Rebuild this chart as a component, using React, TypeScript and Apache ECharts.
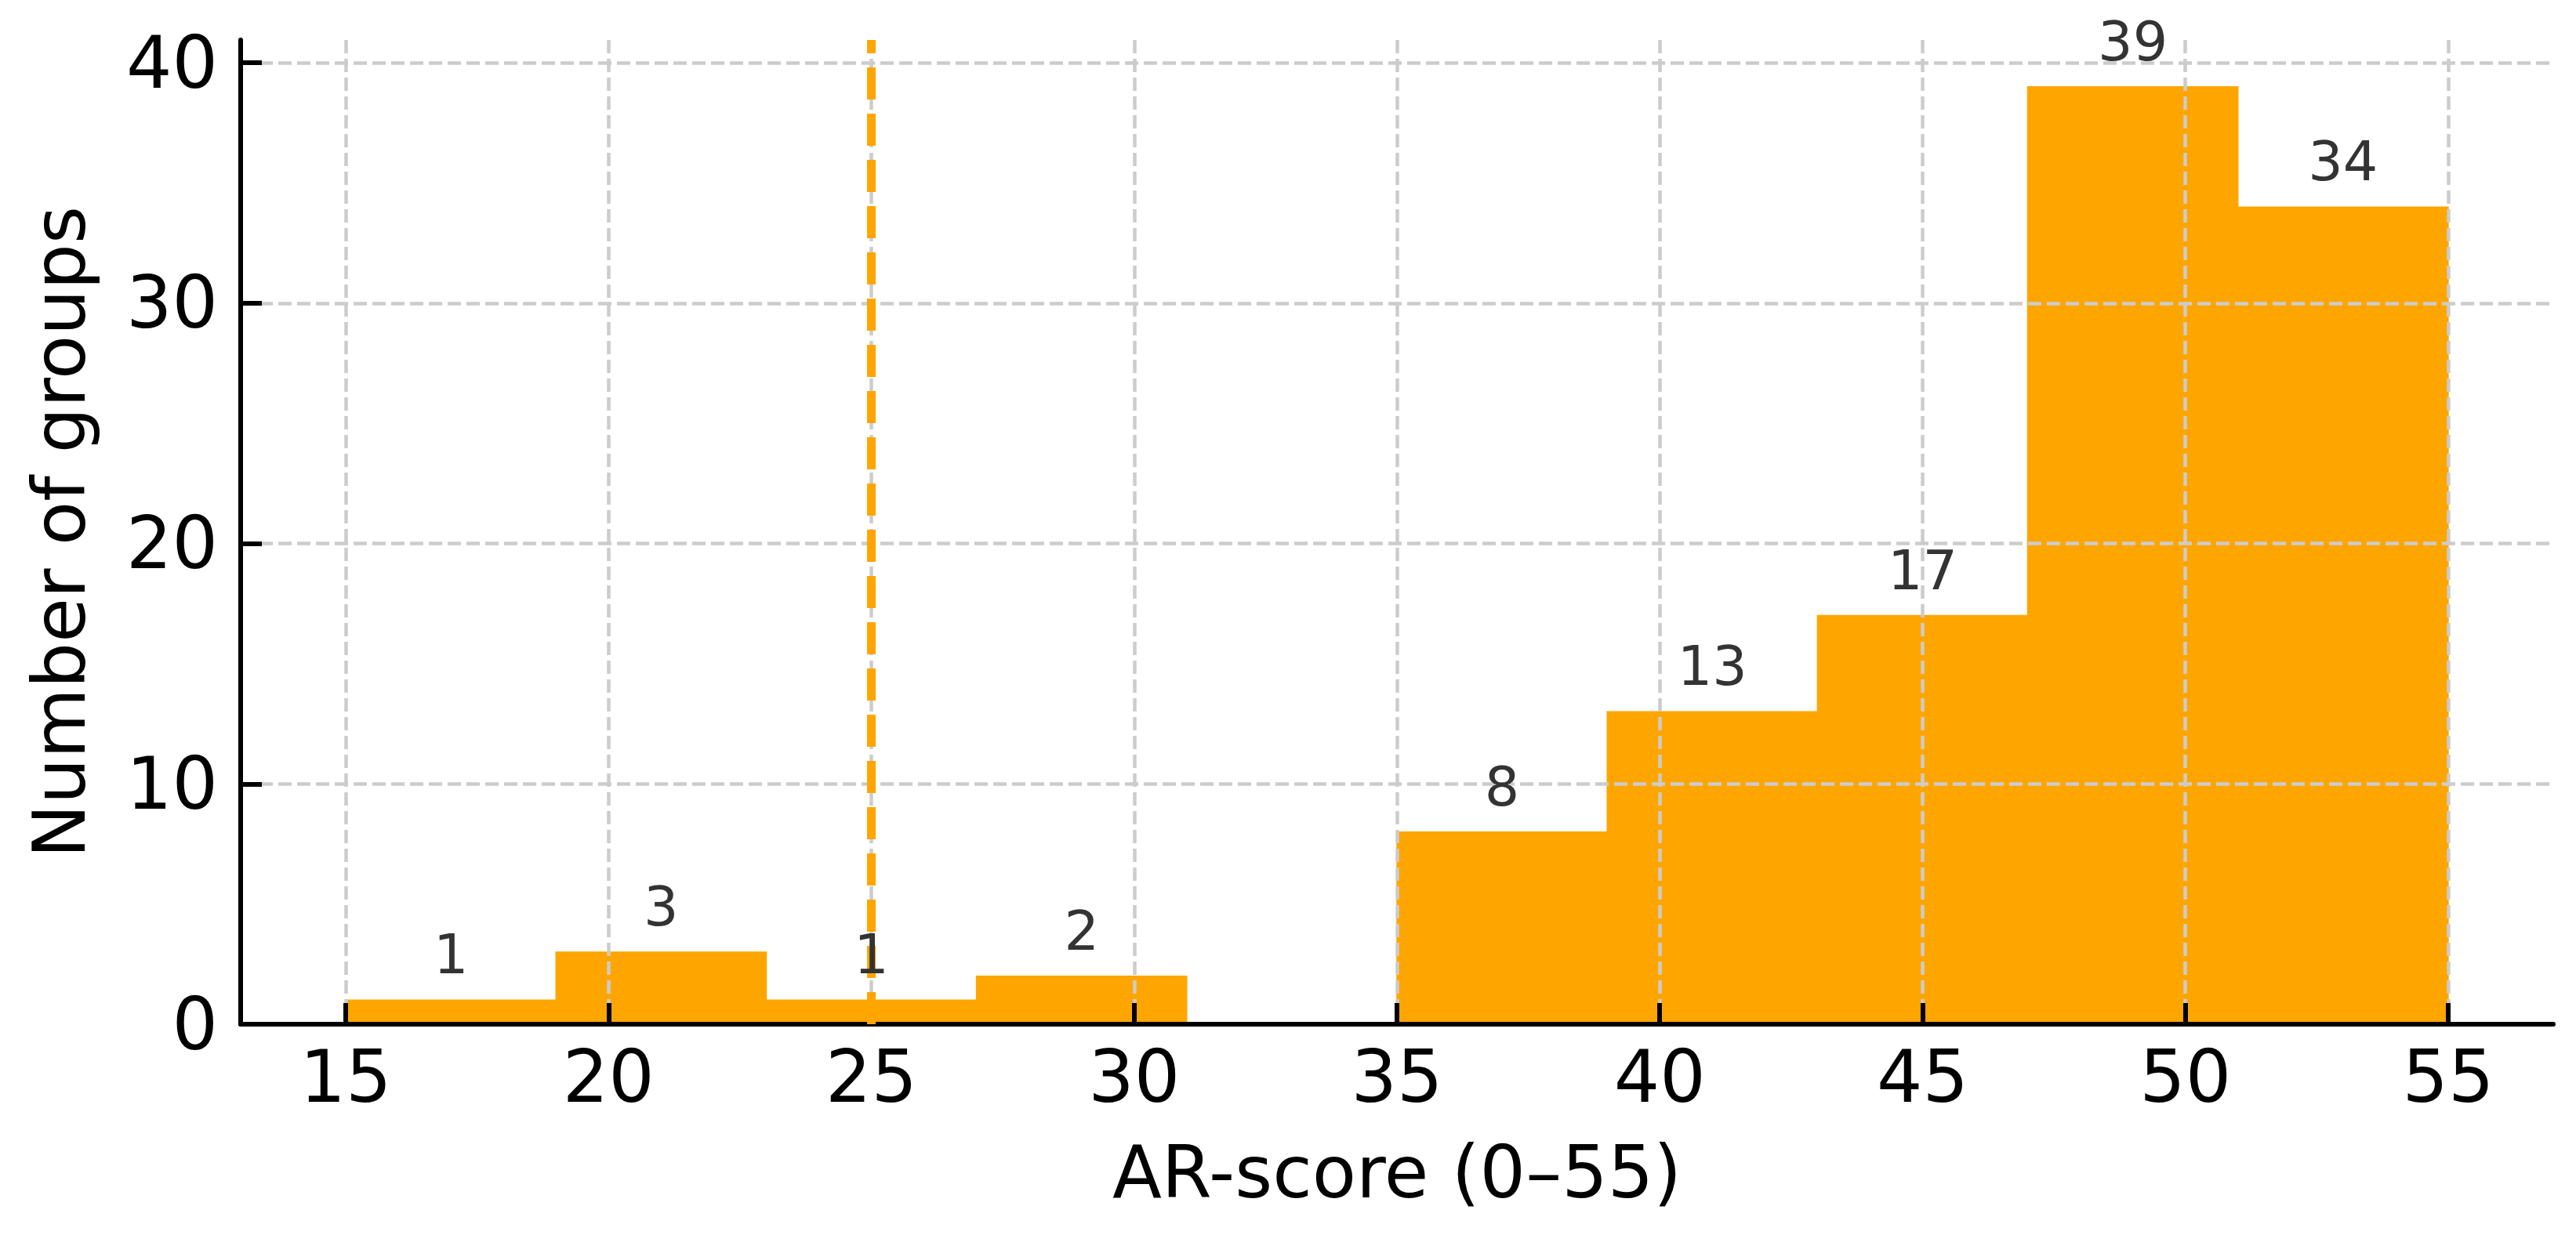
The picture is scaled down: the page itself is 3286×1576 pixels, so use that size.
import React, { useEffect, useRef } from "react";
import * as echarts from "echarts";

// Histogram bins (AR-score) and number of groups per bin
const binStarts = [15, 19, 23, 27, 31, 35, 39, 43, 47, 51];
const binEnds = [19, 23, 27, 31, 35, 39, 43, 47, 51, 55];
const counts = [1, 3, 1, 2, 0, 8, 13, 17, 39, 34];

// Axis ticks
const xTicks = [15, 20, 25, 30, 35, 40, 45, 50, 55];
const yTicks = [0, 10, 20, 30, 40];
const xRange = [13, 57];
const yRange = [0, 40.95];

// Threshold line
const thresholdX = 25;

const FONT = "'DejaVu Sans', 'Liberation Sans', sans-serif";
const ORANGE = "#FFA500";

export default function App() {
  const ref = useRef<HTMLDivElement>(null);

  useEffect(() => {
    if (!ref.current) return;
    const chart = echarts.init(ref.current, undefined, { renderer: "svg" });

    const barData = binStarts.map((s, i) => [s, binEnds[i], counts[i]]);

    const axisCommon = {
      z: 3,
      axisLine: { show: true, onZero: false, lineStyle: { color: "#000", width: 6 } },
      axisTick: { show: true, inside: true, length: 27, lineStyle: { color: "#000", width: 6 } },
      splitLine: { show: true, lineStyle: { color: "#cccccc", width: 4.5, type: [17, 7] } },
      nameTextStyle: { fontSize: 92, color: "#000", fontFamily: FONT },
    };

    chart.setOption({
      animation: false,
      backgroundColor: "#ffffff",
      grid: {
        left: 307,
        right: 29,
        top: 51,
        bottom: 269,
        containLabel: false,
        outerBoundsMode: "none",
      },
      xAxis: {
        ...axisCommon,
        type: "value",
        min: xRange[0],
        max: xRange[1],
        axisTick: { ...axisCommon.axisTick, customValues: xTicks },
        axisLabel: {
          customValues: xTicks,
          fontSize: 92,
          color: "#000",
          fontFamily: FONT,
          margin: 21,
        },
        name: "AR-score (0–55)",
        nameLocation: "middle",
        nameGap: 143,
      },
      yAxis: {
        ...axisCommon,
        type: "value",
        min: yRange[0],
        max: yRange[1],
        axisTick: { ...axisCommon.axisTick, customValues: yTicks },
        axisLabel: {
          customValues: yTicks,
          fontSize: 92,
          color: "#000",
          fontFamily: FONT,
          margin: 29,
        },
        name: "Number of groups",
        nameLocation: "middle",
        nameRotate: 90,
        nameGap: 185,
      },
      series: [
        {
          type: "custom",
          z: 1,
          data: barData,
          encode: { x: [0, 1], y: 2 },
          renderItem: (params: any, api: any) => {
            if (!api.value(2)) return null;
            const p0 = api.coord([api.value(0), 0]);
            const p1 = api.coord([api.value(1), api.value(2)]);
            return {
              type: "rect",
              shape: {
                x: p0[0],
                y: p1[1],
                width: p1[0] - p0[0],
                height: p0[1] - p1[1],
              },
              style: { fill: ORANGE, stroke: ORANGE, lineWidth: 1.5 },
            };
          },
        },
        {
          type: "line",
          z: 4,
          symbol: "none",
          data: [
            [thresholdX, yRange[0]],
            [thresholdX, yRange[1]],
          ],
          lineStyle: { color: ORANGE, width: 11, type: [41, 18], cap: "butt" },
        },
        {
          type: "custom",
          z: 5,
          data: barData,
          encode: { x: [0, 1], y: 2 },
          renderItem: (params: any, api: any) => {
            const v = api.value(2);
            if (!v) return null;
            const c = api.coord([(api.value(0) + api.value(1)) / 2, v]);
            return {
              type: "text",
              x: c[0],
              y: c[1] - 58,
              style: {
                text: String(v),
                fill: "#333333",
                fontSize: 70,
                fontFamily: FONT,
                align: "center",
                verticalAlign: "middle",
              },
            };
          },
        },
      ],
    });

    return () => chart.dispose();
  }, []);

  return (
    <div
      ref={ref}
      style={{ position: "absolute", left: 0, top: 0, width: 3286, height: 1576 }}
    />
  );
}
